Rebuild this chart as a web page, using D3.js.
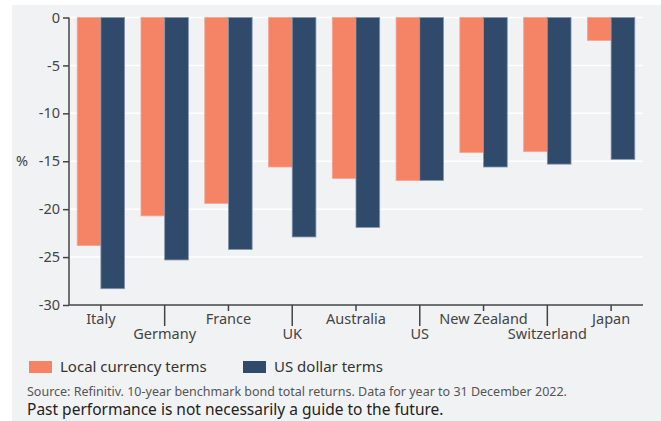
<!DOCTYPE html>
<html>
<head>
<meta charset="utf-8">
<script src="https://cdn.jsdelivr.net/npm/d3@7"></script>
<style>
body { margin: 0; background: #fff; }
svg { display: block; font-family: "Noto Sans", sans-serif; }
</style>
</head>
<body>
<div id="chart"></div>
<script>
const width = 661, height = 421;

// data (% total return, 2022)
const countries = ["Italy", "Germany", "France", "UK", "Australia", "US", "New Zealand", "Switzerland", "Japan"];
const localTerms = [-23.8, -20.7, -19.4, -15.6, -16.8, -17.0, -14.1, -14.0, -2.4];
const usdTerms = [-28.3, -25.3, -24.2, -22.9, -21.9, -17.0, -15.6, -15.3, -14.8];
const yTicks = [0, -5, -10, -15, -20, -25, -30];
const seriesNames = ["Local currency terms", "US dollar terms"];
const colours = ["#f58466", "#2f4a6b"];

const margin = { left: 69, right: 18, top: 17.5, bottom: 116 };

const svg = d3.select("#chart")
	.append("svg")
	.attr("width", width)
	.attr("height", height);

// gray panel
svg.append("rect")
	.attr("x", 12)
	.attr("y", 5)
	.attr("width", width - 12)
	.attr("height", height - 5)
	.attr("fill", "#f1f2f4");

const x = d3.scaleBand()
	.domain(countries)
	.range([margin.left, width - margin.right])
	.paddingInner(0.257)
	.paddingOuter(0.1285);

const xSub = d3.scaleBand()
	.domain([0, 1])
	.range([0, x.bandwidth()]);

const y = d3.scaleLinear()
	.domain([0, -30])
	.range([margin.top, height - margin.bottom]);

// grid lines
svg.append("g")
	.selectAll("line")
	.data(yTicks.slice(0, -1))
	.enter()
	.append("line")
	.attr("x1", margin.left)
	.attr("x2", width - margin.right)
	.attr("y1", d => y(d))
	.attr("y2", d => y(d))
	.attr("stroke", "#ffffff")
	.attr("stroke-width", 1.5);

// bars
const groups = svg.append("g")
	.selectAll("g")
	.data(countries)
	.enter()
	.append("g")
	.attr("transform", d => `translate(${x(d)},0)`);

groups.selectAll("rect")
	.data((d, i) => [localTerms[i], usdTerms[i]])
	.enter()
	.append("rect")
	.attr("x", (d, j) => xSub(j))
	.attr("y", y(0))
	.attr("width", xSub.bandwidth())
	.attr("height", d => y(d) - y(0))
	.attr("fill", (d, j) => colours[j])
	.attr("stroke", (d, j) => j ? "#8395ab" : "#f7a58f")
	.attr("stroke-width", 0.8);

// y axis
const yAxis = svg.append("g")
	.attr("transform", `translate(${margin.left},0)`)
	.call(d3.axisLeft(y).tickValues(yTicks).tickSize(6).tickPadding(3).tickFormat(d => String(d)));

yAxis.select(".domain").attr("d", `M0,${y(0)}V${y(-30)}`);

// x axis
const xAxis = svg.append("g")
	.attr("transform", `translate(0,${y(-30)})`)
	.call(d3.axisBottom(x).tickSizeOuter(0).tickSize(6).tickPadding(3));

xAxis.select(".domain").attr("d", `M${margin.left},0H${width - margin.right}`);

xAxis.selectAll(".tick line")
	.attr("y2", (d, i) => i % 2 ? 21 : 6);

xAxis.selectAll(".tick text")
	.attr("y", (d, i) => i % 2 ? 24 : 9);

svg.selectAll(".domain, .tick line")
	.attr("stroke", "#444")
	.attr("stroke-width", 1.5);

svg.selectAll(".tick text")
	.attr("fill", "#444")
	.attr("font-size", 14.5)
	.attr("font-family", "Noto Sans, sans-serif");

// unit label
svg.append("text")
	.attr("x", 16)
	.attr("y", y(-15))
	.attr("dy", "0.35em")
	.attr("font-size", 14.5)
	.attr("fill", "#444")
	.text("%");

// legend
const legend = svg.append("g")
	.attr("transform", "translate(29,361)");

const legendX = [0, 214];
seriesNames.forEach((name, i) => {
	legend.append("rect")
		.attr("x", legendX[i])
		.attr("width", 23)
		.attr("height", 12)
		.attr("fill", colours[i]);
	legend.append("text")
		.attr("x", legendX[i] + 31)
		.attr("y", 6)
		.attr("dy", "0.35em")
		.attr("font-size", 15)
		.attr("fill", "#333")
		.text(name);
});

// notes
svg.append("text")
	.attr("x", 27)
	.attr("y", 392)
	.attr("dy", "0.35em")
	.attr("font-size", 12.5)
	.attr("fill", "#555")
	.text("Source: Refinitiv. 10-year benchmark bond total returns. Data for year to 31 December 2022.");

svg.append("text")
	.attr("x", 27)
	.attr("y", 410)
	.attr("dy", "0.35em")
	.attr("font-size", 15.5)
	.attr("fill", "#222")
	.text("Past performance is not necessarily a guide to the future.");
</script>
</body>
</html>
